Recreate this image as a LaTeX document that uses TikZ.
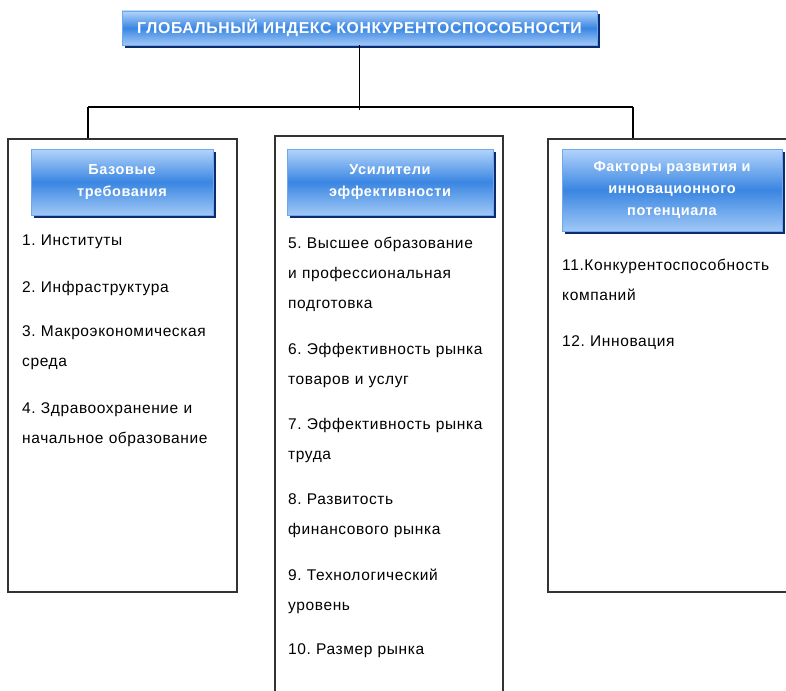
\documentclass[tikz,border=0pt]{standalone}
\usepackage{fontspec}
\setmainfont[LetterSpace=4]{Liberation Sans}
\usetikzlibrary{shadows}
\definecolor{hdtop}{HTML}{B3D4FB}
\definecolor{hdmid}{HTML}{3A86E2}
\definecolor{hdbot}{HTML}{A0C8F6}
\definecolor{hdedge}{HTML}{6FA8EE}
\definecolor{hdshadow}{HTML}{0D2C6E}
\definecolor{framegray}{HTML}{333333}
\frenchspacing
\begin{document}
\begin{tikzpicture}[x=1pt,y=-1pt,
  hdr/.style={draw=hdedge, line width=0.8pt, top color=hdtop, bottom color=hdbot, middle color=hdmid,
    font=\bfseries\fontsize{14.5}{22}\selectfont, text=white, align=center, inner sep=0pt,
    drop shadow={shadow xshift=3pt, shadow yshift=-3pt, fill=hdshadow, opacity=1}},
  panel/.style={draw=framegray, line width=1.4pt, inner sep=0pt},
  item/.style={anchor=base west, inner sep=0pt, text width=#1, align=left,
    font=\fontsize{15.5}{30}\selectfont, text=black},
  link/.style={line width=1.3pt, black}]
\clip (0,0) rectangle (786,690);
\fill[white] (0,0) rectangle (786,690);

% panels
\node[panel, minimum width=229pt, minimum height=453pt] (lp) at (122.5,365.5) {};
\node[panel, minimum width=228pt, minimum height=584pt] (mp) at (389,428) {};
\node[panel, minimum width=262pt, minimum height=453pt] (rp) at (679,365.5) {};

% title
\node[hdr, minimum width=475pt, minimum height=34pt, font=\bfseries\fontsize{15.8}{18}\selectfont] (title) at (359.5,28) {ГЛОБАЛЬНЫЙ ИНДЕКС КОНКУРЕНТОСПОСОБНОСТИ};

% headers
\node[hdr, minimum width=182pt, minimum height=66pt] (h1) at (122,182) {Базовые\\требования};
\node[hdr, minimum width=206pt, minimum height=66pt] (h2) at (390,182) {Усилители\\эффективности};
\node[hdr, minimum width=220pt, minimum height=82pt] (h3) at (672,190) {Факторы развития и\\инновационного\\потенциала};

% connectors
\coordinate (busL) at (88,107);
\coordinate (busR) at (633,107);
\draw[link] (busL) -- (busR);
\draw[link] (title.south) -- ([yshift=-3pt]title.south |- busL);
\draw[link] (busL) -- (busL |- lp.north);
\draw[link] (busR) -- (busR |- rp.north);

% left items
\node[item=212pt] (i1) at (22,245) {1. Институты};
\node[item=212pt] (i2) at (22,292) {2. Инфраструктура};
\node[item=212pt] (i3) at (22,336) {3. Макроэкономическая\\среда};
\node[item=212pt] (i4) at (22,413) {4. Здравоохранение и\\начальное образование};

% middle items
\node[item=212pt] (i5) at (288,248) {5. Высшее образование\\и профессиональная\\подготовка};
\node[item=212pt] (i6) at (288,354) {6. Эффективность рынка\\товаров и услуг};
\node[item=212pt] (i7) at (288,429) {7. Эффективность рынка\\труда};
\node[item=212pt] (i8) at (288,504) {8. Развитость\\финансового рынка};
\node[item=212pt] (i9) at (288,580) {9. Технологический\\уровень};
\node[item=212pt] (i10) at (288,654) {10. Размер рынка};

% right items
\node[item=220pt] (i11) at (562,270) {11.Конкурентоспособность\\компаний};
\node[item=220pt] (i12) at (562,346) {12. Инновация};
\end{tikzpicture}
\end{document}
